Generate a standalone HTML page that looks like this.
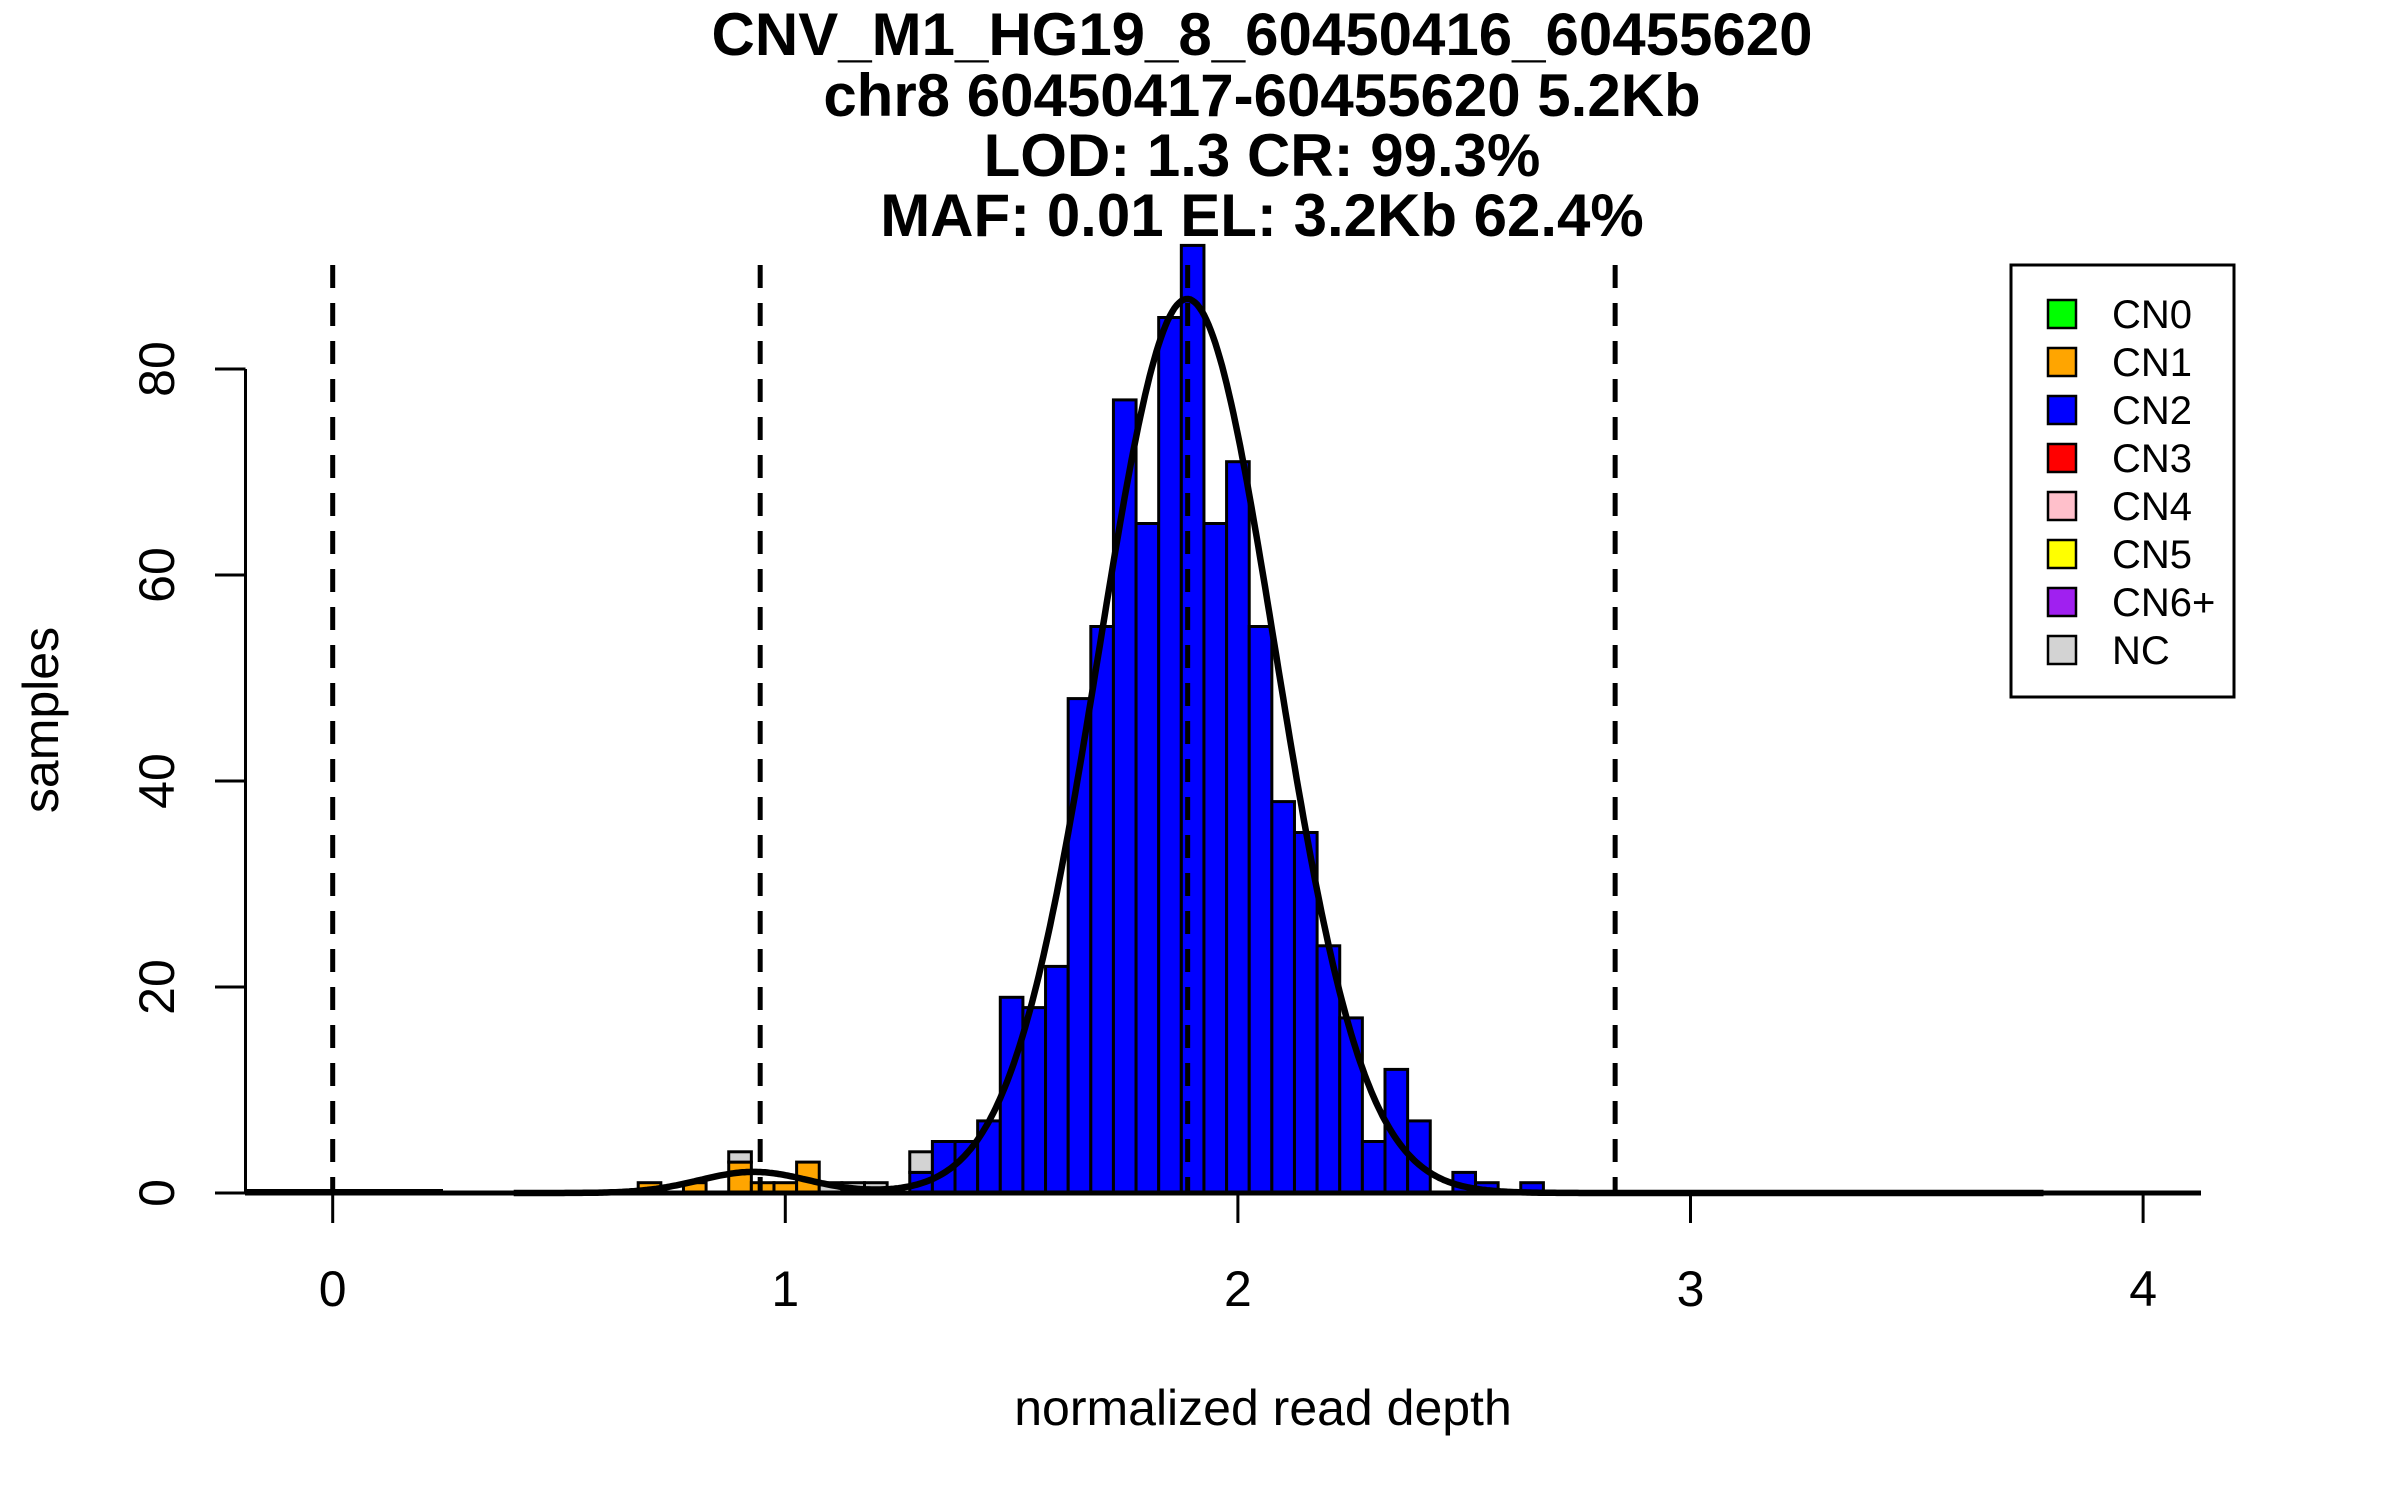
<!DOCTYPE html>
<html><head><meta charset="utf-8"><style>
html,body{margin:0;padding:0;background:#fff;}
svg{display:block;font-family:"Liberation Sans",sans-serif;}
</style></head><body>
<svg id="chart" width="2400" height="1500" viewBox="0 0 2400 1500" xmlns="http://www.w3.org/2000/svg">
<rect width="2400" height="1500" fill="#fff"/>
<g font-weight="bold" font-size="60" text-anchor="middle">
<text x="1262" y="55">CNV_M1_HG19_8_60450416_60455620</text>
<text x="1262" y="116">chr8 60450417-60455620 5.2Kb</text>
<text x="1262" y="176">LOD: 1.3 CR: 99.3%</text>
<text x="1262" y="236">MAF: 0.01 EL: 3.2Kb 62.4%</text>
</g>
<g id="bars"></g>
<g id="curves"></g>
<g id="dashes"></g>
<g id="axes"></g>
<text x="1263" y="1425" font-size="50" text-anchor="middle">normalized read depth</text>
<text transform="translate(58,720) rotate(-90)" font-size="50" text-anchor="middle">samples</text>
<g id="legend">
<rect x="2011" y="265" width="223" height="432" fill="#fff" stroke="#000" stroke-width="3"/>
</g>
</svg>
<script>
const binCenters = [0.70,0.75,0.80,0.85,0.90,0.95,1.00,1.05,1.10,1.15,1.20,1.25,1.30,1.35,1.40,1.45,1.50,1.55,1.60,1.65,1.70,1.75,1.80,1.85,1.90,1.95,2.00,2.05,2.10,2.15,2.20,2.25,2.30,2.35,2.40,2.45,2.50,2.55,2.60,2.65];
const cn1Counts = [1,0,1,0,3,1,1,3,0,0,0,0,0,0,0,0,0,0,0,0,0,0,0,0,0,0,0,0,0,0,0,0,0,0,0,0,0,0,0,0];
const cn2Counts = [0,0,0,0,0,0,0,0,0,0,0,0,2,5,5,7,19,18,22,48,55,77,65,85,92,65,71,55,38,35,24,17,5,12,7,0,2,1,0,1];
const ncCounts  = [0,0,0,0,1,0,0,0,1,1,1,0,2,0,0,0,0,0,0,0,0,0,0,0,0,0,0,0,0,0,0,0,0,0,0,0,0,0,0,0];
const binWidth = 0.05;
const xTicks = [0,1,2,3,4];
const yTicks = [0,20,40,60,80];
const cnLines = [0,0.9445,1.889,2.8335];
const fitMeans = [0.93,1.888];
const fitPeaks = [2.05,86.8];
const fitSds = [0.12,0.195];
const legendLabels = ["CN0","CN1","CN2","CN3","CN4","CN5","CN6+","NC"];
const legendColors = ["#00ff00","#ffa500","#0000ff","#ff0000","#ffc0cb","#ffff00","#a020f0","#d3d3d3"];

const NS = "http://www.w3.org/2000/svg";
const px = v => 332.7 + 452.6 * v;
const py = n => 1193 - 10.30 * n;
function mk(tag, attrs, parent){ const e=document.createElementNS(NS,tag); for(const k in attrs) e.setAttribute(k,attrs[k]); parent.appendChild(e); return e; }

const gb = document.getElementById('bars');
const series = [[cn1Counts,"#ffa500","cn1"],[cn2Counts,"#0000ff","cn2"],[ncCounts,"#d3d3d3","nc"]];
binCenters.forEach((c,i)=>{
  let base = 0;
  series.forEach(([arr,col,nm])=>{
    const v = arr[i];
    if(v>0){
      const r = mk('rect',{x:px(c-binWidth/2),y:py(base+v),width:px(c+binWidth/2)-px(c-binWidth/2),height:py(base)-py(base+v),fill:col,stroke:'#000','stroke-width':3},gb);
      
      
      base += v;
    }
  });
});

const gc = document.getElementById('curves');
let d = "";
for(let v=0.40; v<=3.78; v+=0.005){
  let y=0; for(let k=0;k<fitMeans.length;k++) y += fitPeaks[k]*Math.exp(-Math.pow(v-fitMeans[k],2)/(2*fitSds[k]*fitSds[k]));
  d += (d?"L":"M")+px(v).toFixed(1)+","+py(y).toFixed(1);
}
const cv = mk('path',{d:d,fill:'none',stroke:'#000','stroke-width':6.5},gc);


const flat = mk('line',{x1:245,x2:443,y1:1191.5,y2:1191.5,stroke:'#000','stroke-width':5},gc);



const gd = document.getElementById('dashes');
cnLines.forEach((v,i)=>{
  const l = mk('line',{x1:px(v),x2:px(v),y1:265,y2:1193,stroke:'#000','stroke-width':5,'stroke-dasharray':'23 15'},gd);
  
  
});

const ga = document.getElementById('axes');
const base = mk('line',{x1:245,x2:2201,y1:1193,y2:1193,stroke:'#000','stroke-width':5},ga);


xTicks.forEach(t=>{
  const tk = mk('line',{x1:px(t),x2:px(t),y1:1193,y2:1223,stroke:'#000','stroke-width':3},ga);
  
  
  const tl = mk('text',{x:px(t),y:1306,'font-size':50,'text-anchor':'middle'},ga);
  tl.textContent = String(t);
  
  
});
const yax = mk('line',{x1:245.5,x2:245.5,y1:py(yTicks[yTicks.length-1]),y2:py(yTicks[0]),stroke:'#000','stroke-width':3},ga);


yTicks.forEach(t=>{
  const tk = mk('line',{x1:215,x2:245.5,y1:py(t),y2:py(t),stroke:'#000','stroke-width':3},ga);
  
  
  const tl = mk('text',{transform:'translate(174,'+py(t)+') rotate(-90)','font-size':50,'text-anchor':'middle'},ga);
  tl.textContent = String(t);
  
  
});

const gl = document.getElementById('legend');
legendLabels.forEach((lab,i)=>{
  const y = 314 + 48*i;
  const sq = mk('rect',{x:2048,y:y-14,width:28,height:28,fill:legendColors[i],stroke:'#000','stroke-width':2.5},gl);
  
  
  const tx = mk('text',{x:2112,y:y+14,'font-size':40},gl);
  tx.textContent = lab;
  
  
});
</script>
</body></html>
